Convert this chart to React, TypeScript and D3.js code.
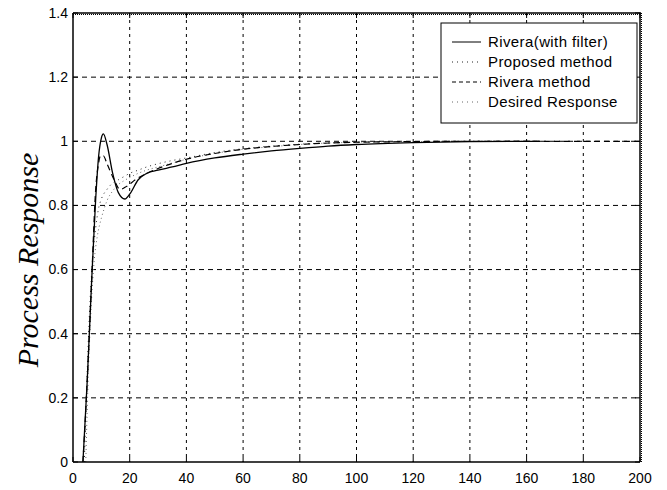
import React, { useEffect, useRef } from 'react';
import * as d3 from 'd3';

// Rivera (with filter) - solid
const riveraFilterT = [3.5, 5, 6.5, 8, 9, 10, 10.7, 12, 14, 16, 18.3, 20, 23, 26, 30, 35, 40, 50, 60, 70, 80, 90, 100, 120, 140, 165];
const riveraFilterY = [0, 0.25, 0.55, 0.82, 0.95, 1.01, 1.023, 0.99, 0.9, 0.84, 0.82, 0.835, 0.88, 0.9, 0.91, 0.92, 0.931, 0.948, 0.96, 0.97, 0.978, 0.985, 0.99, 0.996, 0.999, 1.0];

// Proposed method - dotted
const proposedT = [4, 5, 6, 7, 8, 9, 10, 12, 14, 16, 18, 20, 23, 26, 30, 35, 40, 50, 60, 70, 80, 100, 120, 140, 165];
const proposedY = [0, 0.28, 0.5, 0.64, 0.73, 0.79, 0.82, 0.85, 0.87, 0.88, 0.89, 0.9, 0.91, 0.92, 0.93, 0.94, 0.948, 0.965, 0.977, 0.985, 0.991, 0.997, 0.999, 1, 1];

// Rivera method - dashed
const riveraT = [3.5, 5, 6.5, 8, 9, 9.7, 10.7, 12, 14.5, 16.6, 19, 22, 26, 30, 40, 50, 60, 80, 100, 120, 140, 165, 200];
const riveraY = [0, 0.25, 0.55, 0.85, 0.93, 0.955, 0.955, 0.93, 0.88, 0.85, 0.86, 0.88, 0.9, 0.915, 0.944, 0.962, 0.975, 0.99, 0.997, 0.999, 1, 1, 1];

// Desired response - dotted
const desiredT = [4.5, 5.5, 6.5, 7.5, 8.5, 10, 11, 12, 14, 16, 18, 20, 23, 26, 30, 35, 40, 50, 60, 70, 80, 100, 120, 140, 165];
const desiredY = [0, 0.3, 0.5, 0.63, 0.7, 0.76, 0.79, 0.815, 0.845, 0.865, 0.877, 0.887, 0.9, 0.91, 0.92, 0.932, 0.944, 0.962, 0.975, 0.983, 0.99, 0.997, 0.999, 1, 1];

const xTicks = [0, 20, 40, 60, 80, 100, 120, 140, 160, 180, 200];
const yTicks = [0, 0.2, 0.4, 0.6, 0.8, 1, 1.2, 1.4];

const legendLabels = ['Rivera(with filter)', 'Proposed method', 'Rivera method', 'Desired Response'];

export default function App() {
  const svgRef = useRef<SVGSVGElement>(null);

  useEffect(() => {
    const W = 667, H = 490;
    const left = 73, right = 640, top = 13, bottom = 462;

    const svg = d3.select(svgRef.current);
    svg.selectAll('*').remove();
    svg.attr('width', W).attr('height', H);

    svg.append('rect').attr('width', W).attr('height', H).attr('fill', '#fff');

    const x = d3.scaleLinear().domain([0, 200]).range([left, right]);
    const y = d3.scaleLinear().domain([0, 1.4]).range([bottom, top]);

    // grid
    const grid = svg.append('g');
    xTicks.slice(1, -1).forEach(t => {
      grid.append('line')
        .attr('x1', x(t)).attr('x2', x(t)).attr('y1', top).attr('y2', bottom)
        .attr('stroke', '#000').attr('stroke-dasharray', '3,4');
    });
    yTicks.slice(1, -1).forEach(t => {
      grid.append('line')
        .attr('x1', left).attr('x2', right).attr('y1', y(t)).attr('y2', y(t))
        .attr('stroke', '#000').attr('stroke-dasharray', '5,4');
    });

    // series
    const line = d3.line<[number, number]>()
      .x(d => x(d[0]))
      .y(d => y(d[1]))
      .curve(d3.curveMonotoneX);

    const series = [
      { t: desiredT, v: desiredY, dash: '1,3', color: '#666', w: 1 },
      { t: proposedT, v: proposedY, dash: '1,4', color: '#222', w: 1 },
      { t: riveraT, v: riveraY, dash: '6,4', color: '#000', w: 1.2 },
      { t: riveraFilterT, v: riveraFilterY, dash: null, color: '#000', w: 1.3 }
    ];

    series.forEach(s => {
      const pts = s.t.map((t, i) => [t, s.v[i]] as [number, number]);
      svg.append('path')
        .attr('d', line(pts))
        .attr('fill', 'none')
        .attr('stroke', s.color)
        .attr('stroke-width', s.w)
        .attr('stroke-dasharray', s.dash);
    });

    // axes box
    svg.append('line').attr('x1', left).attr('x2', left).attr('y1', top).attr('y2', bottom).attr('stroke', '#000').attr('stroke-width', 1.5);
    svg.append('line').attr('x1', left).attr('x2', right).attr('y1', bottom).attr('y2', bottom).attr('stroke', '#000').attr('stroke-width', 1.5);
    svg.append('line').attr('x1', left).attr('x2', right + 1).attr('y1', top).attr('y2', top).attr('stroke', '#000').attr('stroke-width', 1.5);
    svg.append('line').attr('x1', left).attr('x2', right + 1).attr('y1', top + 1.5).attr('y2', top + 1.5).attr('stroke', '#000').attr('stroke-dasharray', '1,1');
    svg.append('line').attr('x1', right).attr('x2', right).attr('y1', top).attr('y2', bottom).attr('stroke', '#000').attr('stroke-width', 1.5);
    svg.append('line').attr('x1', right + 1.5).attr('x2', right + 1.5).attr('y1', top).attr('y2', bottom).attr('stroke', '#000').attr('stroke-dasharray', '1,1');

    // inward ticks
    xTicks.forEach(t => {
      svg.append('line').attr('x1', x(t)).attr('x2', x(t)).attr('y1', bottom).attr('y2', bottom - 5).attr('stroke', '#000');
      svg.append('line').attr('x1', x(t)).attr('x2', x(t)).attr('y1', top).attr('y2', top + 5).attr('stroke', '#000');
    });
    yTicks.forEach(t => {
      svg.append('line').attr('x1', left).attr('x2', left + 5).attr('y1', y(t)).attr('y2', y(t)).attr('stroke', '#000');
      svg.append('line').attr('x1', right).attr('x2', right - 5).attr('y1', y(t)).attr('y2', y(t)).attr('stroke', '#000');
    });

    // tick labels
    const font = '"Liberation Sans", Arial, sans-serif';
    svg.append('g').selectAll('text')
      .data(xTicks)
      .enter().append('text')
      .attr('x', d => x(d))
      .attr('y', bottom + 21)
      .attr('text-anchor', 'middle')
      .style('font-family', font)
      .style('font-size', '14px')
      .text(d => String(d));

    svg.append('g').selectAll('text')
      .data(yTicks)
      .enter().append('text')
      .attr('x', left - 5)
      .attr('y', d => y(d))
      .attr('dy', '0.35em')
      .attr('text-anchor', 'end')
      .style('font-family', font)
      .style('font-size', '14px')
      .text(d => (d === 0 || d === 1) ? String(d) : d.toFixed(1));

    // y label
    svg.append('text')
      .attr('transform', `translate(38, 260) rotate(-90)`)
      .attr('text-anchor', 'middle')
      .style('font-family', '"Liberation Serif", "Times New Roman", serif')
      .style('font-style', 'italic')
      .style('font-size', '30px')
      .text('Process Response');

    // legend
    const lg = svg.append('g');
    lg.append('rect')
      .attr('x', 441).attr('y', 23).attr('width', 196).attr('height', 100)
      .attr('fill', '#fff').attr('stroke', '#000');
    const legendStyles = [
      { dash: null, color: '#000' },
      { dash: '1,4', color: '#222' },
      { dash: '4,3', color: '#000' },
      { dash: '1,4', color: '#666' }
    ];
    legendLabels.forEach((label, i) => {
      const ly = 42 + i * 20;
      lg.append('line')
        .attr('x1', 452).attr('x2', 481).attr('y1', ly).attr('y2', ly)
        .attr('stroke', legendStyles[i].color)
        .attr('stroke-dasharray', legendStyles[i].dash);
      lg.append('text')
        .attr('x', 488).attr('y', ly).attr('dy', '0.35em')
        .style('font-family', font)
        .style('font-size', '15px')
        .style('letter-spacing', '0.4px')
        .text(label);
    });
  }, []);

  return (
    <div style={{ position: 'absolute', left: 0, top: 0 }}>
      <svg ref={svgRef} />
    </div>
  );
}
